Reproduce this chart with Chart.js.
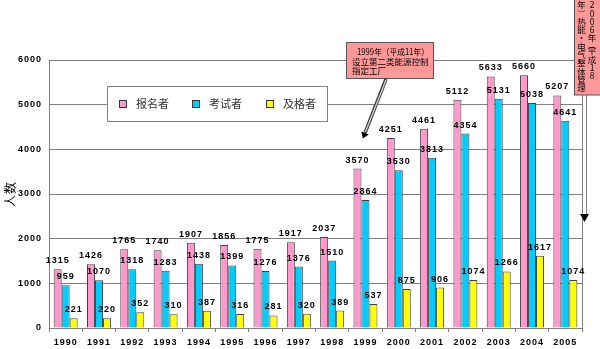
<!DOCTYPE html>
<html>
<head>
<meta charset="utf-8">
<script src="https://cdn.jsdelivr.net/npm/chart.js@4/dist/chart.umd.min.js"></script>
<style>
  html, body { margin: 0; padding: 0; background: #fff; }
  #wrap { width: 600px; height: 349px; position: relative; }
</style>
</head>
<body>
<div id="wrap"><canvas id="c" width="600" height="349"></canvas></div>
<script>
const categories = ['1990','1991','1992','1993','1994','1995','1996','1997','1998','1999','2000','2001','2002','2003','2004','2005'];
const applicants = [1315,1426,1765,1740,1907,1856,1775,1917,2037,3570,4251,4461,5112,5633,5660,5207];
const examinees  = [959,1070,1318,1283,1438,1399,1276,1376,1510,2864,3530,3813,4354,5131,5038,4641];
const passers    = [221,220,352,310,387,316,281,320,389,537,875,906,1074,1266,1617,1074];
const seriesNames = ['报名者','考试者','及格者'];
const seriesColors = ['#FF99CC','#00CCFF','#FFFF00'];
const yAxisTitle = '人数';
const yMin = 0, yMax = 6000, yStep = 1000;
const note1Lines = ['1999年（平成11年）','设立第二类能源控制','指定工厂'];
const note2Right = ['2','0','0','6','年','︵','平','成','1','8'];
const note2Left  = ['年','︶','热','能','・','电','气','整','体','管','理'];

const NUM_FONT = 'bold 9px "Liberation Sans", Arial, sans-serif';
const CJK = '"Noto Sans CJK SC", "Noto Sans CJK JP", sans-serif';

const decor = {
  id: 'decor',
  beforeDraw(chart) {
    chart.ctx.letterSpacing = '1px';
  },
  beforeDatasetsDraw(chart) {
    const {ctx, chartArea: a} = chart;
    ctx.save();
    ctx.strokeStyle = '#808080';
    ctx.lineWidth = 1;
    ctx.beginPath();
    ctx.moveTo(Math.round(a.right) + 0.5, a.top);
    ctx.lineTo(Math.round(a.right) + 0.5, a.bottom);
    ctx.stroke();
    ctx.restore();
  },
  afterDatasetsDraw(chart) {
    const ctx = chart.ctx;
    ctx.save();
    ctx.letterSpacing = '1px';
    ctx.font = NUM_FONT;
    ctx.fillStyle = '#000';
    ctx.textAlign = 'center';
    ctx.textBaseline = 'bottom';
    chart.data.datasets.forEach((ds, i) => {
      const meta = chart.getDatasetMeta(i);
      meta.data.forEach((el, j) => {
        ctx.fillText(String(ds.data[j]), el.x, el.y - 4);
      });
    });
    ctx.restore();
  },
  afterDraw(chart) {
    const ctx = chart.ctx;
    ctx.save();
    ctx.letterSpacing = '0px';
    // Legend box
    ctx.fillStyle = '#fff';
    ctx.fillRect(107, 86, 220, 35);
    ctx.strokeStyle = '#808080';
    ctx.lineWidth = 1;
    ctx.strokeRect(107.5, 86.5, 220, 35);
    const itemX = [119, 192, 266];
    ctx.font = '11px ' + CJK;
    ctx.textBaseline = 'middle';
    ctx.textAlign = 'left';
    chart.data.datasets.forEach((ds, i) => {
      const x = itemX[i];
      ctx.fillStyle = ds.backgroundColor;
      ctx.fillRect(x, 100, 7, 7);
      ctx.strokeStyle = '#333';
      ctx.strokeRect(x + 0.5, 100.5, 7, 7);
      ctx.fillStyle = '#333';
      ctx.fillText(ds.label, x + 17, 104);
    });

    // Note 1 box
    ctx.fillStyle = '#FF9999';
    ctx.fillRect(346, 42, 87, 36);
    ctx.strokeStyle = '#555';
    ctx.strokeRect(346.5, 42.5, 87, 36);
    ctx.fillStyle = '#000';
    ctx.font = '8.5px ' + CJK;
    ctx.textBaseline = 'middle';
    ctx.fillText(note1Lines[0], 357, 52, 72);
    ctx.fillText(note1Lines[1], 352, 61.5, 79);
    ctx.fillText(note1Lines[2], 352, 71, 79);

    // Arrow 1
    const x0 = 386, y0 = 79, x1 = 365, y1 = 133;
    ctx.lineCap = 'butt';
    ctx.strokeStyle = '#404040';
    ctx.lineWidth = 3.5;
    ctx.beginPath(); ctx.moveTo(x0, y0); ctx.lineTo(x1, y1); ctx.stroke();
    ctx.strokeStyle = '#d8d8d8';
    ctx.lineWidth = 1.2;
    ctx.beginPath(); ctx.moveTo(x0, y0 + 1); ctx.lineTo(x1 + 0.4, y1 - 1); ctx.stroke();
    const ang = Math.atan2(y1 - y0, x1 - x0);
    const tipX = x1 + Math.cos(ang) * 6, tipY = y1 + Math.sin(ang) * 6;
    ctx.fillStyle = '#000';
    ctx.beginPath();
    ctx.moveTo(tipX, tipY);
    ctx.lineTo(x1 + Math.cos(ang + Math.PI / 2) * 4, y1 + Math.sin(ang + Math.PI / 2) * 4);
    ctx.lineTo(x1 + Math.cos(ang - Math.PI / 2) * 4, y1 + Math.sin(ang - Math.PI / 2) * 4);
    ctx.closePath(); ctx.fill();

    // Arrow 2 (vertical double line)
    ctx.strokeStyle = '#808080';
    ctx.lineWidth = 1;
    ctx.beginPath();
    ctx.moveTo(582.5, 95); ctx.lineTo(582.5, 215);
    ctx.moveTo(586.5, 95); ctx.lineTo(586.5, 215);
    ctx.stroke();
    ctx.fillStyle = '#fff';
    ctx.fillRect(583, 95, 3, 120);
    ctx.fillStyle = '#000';
    ctx.beginPath();
    ctx.moveTo(580, 214); ctx.lineTo(589, 214); ctx.lineTo(584.5, 222);
    ctx.closePath(); ctx.fill();

    // Note 2 box
    ctx.fillStyle = '#FF9999';
    ctx.fillRect(574, -1, 30, 96);
    ctx.strokeStyle = '#555';
    ctx.strokeRect(574.5, -1, 30, 96);
    ctx.fillStyle = '#000';
    ctx.font = '8.5px ' + CJK;
    ctx.textAlign = 'center';
    ctx.textBaseline = 'middle';
    let y = 5;
    note2Right.forEach(ch => {
      const h = (ch === '︵') ? 4.5 : 8.3;
      ctx.fillText(ch, 592, y + (ch === '︵' ? -1.5 : 0));
      y += h;
    });
    y = 5;
    note2Left.forEach(ch => {
      ctx.fillText(ch, 581.5, y);
      y += 8.3;
    });
    ctx.restore();
  }
};

const datasetsArr = [applicants, examinees, passers].map((d, i) => ({
  label: seriesNames[i],
  data: d,
  backgroundColor: seriesColors[i],
  borderColor: '#404040',
  borderWidth: 1,
  categoryPercentage: 0.72,
  barPercentage: 1.0
}));

new Chart(document.getElementById('c'), {
  type: 'bar',
  data: { labels: categories, datasets: datasetsArr },
  options: {
    responsive: false,
    animation: false,
    devicePixelRatio: 1,
    layout: { padding: { top: 60, right: 18, left: 0, bottom: 0 } },
    plugins: { legend: { display: false }, tooltip: { enabled: false } },
    scales: {
      x: {
        grid: { display: true, drawOnChartArea: false, drawTicks: true, tickLength: 4, color: '#808080', offset: true },
        border: { display: true, color: '#808080' },
        ticks: { font: { family: '"Liberation Sans", Arial, sans-serif', size: 9, weight: 'bold' }, color: '#000', padding: 5, autoSkip: false, maxRotation: 0 },
        afterFit(s) { s.height = 21; }
      },
      y: {
        min: yMin, max: yMax,
        grid: { color: '#808080', drawTicks: false },
        border: { display: true, color: '#808080' },
        ticks: { stepSize: yStep, callback: v => String(v), font: { family: '"Liberation Sans", Arial, sans-serif', size: 9, weight: 'bold' }, color: '#000', padding: 7 },
        title: { display: true, text: yAxisTitle, font: { family: CJK, size: 12 }, color: '#000', padding: { top: 3, bottom: 0 } },
        afterFit(s) { s.width = 49; }
      }
    }
  },
  plugins: [decor]
});
</script>
</body>
</html>
